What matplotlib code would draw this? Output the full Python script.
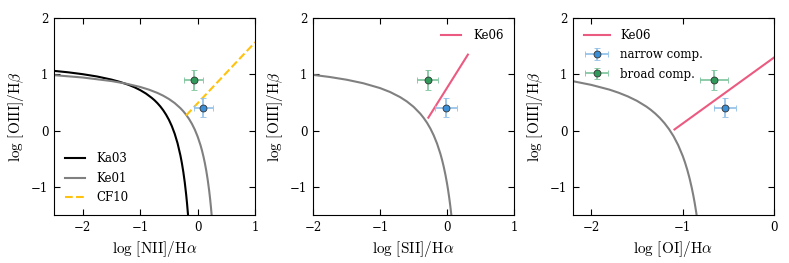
import matplotlib
matplotlib.use("Agg")
import matplotlib.pyplot as plt
from matplotlib.container import ErrorbarContainer
from matplotlib.legend_handler import HandlerErrorbar

plt.rcParams['font.family'] = 'DejaVu Serif'
plt.rcParams['mathtext.fontset'] = 'cm'
plt.rcParams['xtick.direction'] = 'in'
plt.rcParams['ytick.direction'] = 'in'
plt.rcParams['xtick.top'] = True
plt.rcParams['ytick.right'] = True

# demarcation curves, values
ka03_x = [-2.5, -2.25, -2.0, -1.75, -1.5, -1.35, -1.2, -1.1, -1.0, -0.9, -0.8, -0.75, -0.7, -0.65,
          -0.6, -0.55, -0.5, -0.45, -0.4, -0.35, -0.3, -0.275, -0.25, -0.225, -0.2, -0.185, -0.17, -0.16]
ka03_y = [1.061, 1.035, 1.002, 0.961, 0.906, 0.864, 0.812, 0.770, 0.719, 0.658, 0.582, 0.538, 0.487, 0.429,
          0.362, 0.283, 0.191, 0.080, -0.056, -0.225, -0.443, -0.577, -0.733, -0.918, -1.14, -1.296, -1.473, -1.605]

ke01_nii_x = [-2.5, -2.0, -1.5, -1.25, -1.0, -0.85, -0.7, -0.6, -0.5, -0.4, -0.3, -0.25, -0.2, -0.15,
              -0.1, -0.05, 0.0, 0.05, 0.075, 0.1, 0.125, 0.15, 0.175, 0.2, 0.215, 0.23, 0.25]
ke01_nii_y = [0.985, 0.943, 0.880, 0.835, 0.775, 0.728, 0.669, 0.620, 0.561, 0.489, 0.398, 0.343, 0.280, 0.206,
              0.120, 0.017, -0.108, -0.262, -0.354, -0.459, -0.578, -0.716, -0.878, -1.069, -1.202, -1.352, -1.583]

cf10_x = [-0.2, 1.0]
cf10_y = [0.27, 1.57]

ke01_sii_x = [-2.0, -1.75, -1.5, -1.25, -1.0, -0.85, -0.7, -0.6, -0.5, -0.4, -0.35, -0.3, -0.25, -0.2,
              -0.15, -0.1, -0.075, -0.05, -0.025, 0.0, 0.015, 0.03, 0.045, 0.06, 0.07]
ke01_sii_y = [0.990, 0.952, 0.904, 0.841, 0.755, 0.685, 0.594, 0.517, 0.422, 0.300, 0.225, 0.139, 0.037, -0.085,
              -0.232, -0.414, -0.523, -0.646, -0.787, -0.95, -1.061, -1.183, -1.318, -1.469, -1.58]

ke06_sii_x = [-0.28, 0.31]
ke06_sii_y = [0.23, 1.35]

ke01_oi_x = [-2.2, -2.0, -1.8, -1.7, -1.6, -1.5, -1.4, -1.35, -1.3, -1.25, -1.2, -1.15, -1.1, -1.05,
             -1.0, -0.975, -0.95, -0.925, -0.9, -0.885, -0.87, -0.855, -0.84]
ke01_oi_y = [0.877, 0.812, 0.727, 0.672, 0.607, 0.528, 0.429, 0.370, 0.302, 0.224, 0.133, 0.026, -0.101, -0.257,
             -0.450, -0.566, -0.698, -0.849, -1.025, -1.145, -1.277, -1.425, -1.59]

ke06_oi_x = [-1.09, 0.0]
ke06_oi_y = [0.02, 1.30]

# measurements: [NII], [SII], [OI] panels
oiii = {'narrow': 0.41, 'broad': 0.90}
oiii_err = {'narrow': 0.16, 'broad': 0.18}
nii = {'narrow': 0.10, 'broad': -0.07}
nii_err = {'narrow': 0.16, 'broad': 0.16}
sii = {'narrow': -0.02, 'broad': -0.29}
sii_err = {'narrow': 0.16, 'broad': 0.16}
oi = {'narrow': -0.54, 'broad': -0.66}
oi_err = {'narrow': 0.12, 'broad': 0.15}

face = {'narrow': '#3a8fd6', 'broad': '#2f9a5a'}
ecol = {'narrow': '#8fbfe8', 'broad': '#7cc49b'}
labels = {'narrow': 'narrow comp.', 'broad': 'broad comp.'}

fig = plt.figure(figsize=(7.89, 2.63), dpi=100)
lefts = [0.0684, 0.3967, 0.7262]
axes = [fig.add_axes([l, 0.1825, 0.255, 0.749]) for l in lefts]

pink = '#eb5a80'
lab_fs = 11
small = 8.5

ax = axes[0]
ax.plot(ka03_x, ka03_y, color='black', lw=1.5, label='Ka03')
ax.plot(ke01_nii_x, ke01_nii_y, color='gray', lw=1.5, label='Ke01')
ax.plot(cf10_x, cf10_y, color='#ffc20e', lw=1.5, ls='--', label='CF10')
ax.set_xlim(-2.5, 1)
ax.set_xticks([-2, -1, 0, 1])
ax.set_xlabel(r'$\log\,[\mathrm{NII}]/\mathrm{H}\alpha$', fontsize=lab_fs)
ax.legend(loc='lower left', frameon=False, fontsize=small, handlelength=1.7,
          handletextpad=1.0, labelspacing=0.55)

ax = axes[1]
ax.plot(ke01_sii_x, ke01_sii_y, color='gray', lw=1.5)
ax.plot(ke06_sii_x, ke06_sii_y, color=pink, lw=1.5, label='Ke06')
ax.set_xlim(-2, 1)
ax.set_xticks([-2, -1, 0, 1])
ax.set_xlabel(r'$\log\,[\mathrm{SII}]/\mathrm{H}\alpha$', fontsize=lab_fs)
ax.legend(loc='upper right', frameon=False, fontsize=small, handlelength=1.7,
          handletextpad=1.0)

ax = axes[2]
ax.plot(ke01_oi_x, ke01_oi_y, color='gray', lw=1.5)
ax.plot(ke06_oi_x, ke06_oi_y, color=pink, lw=1.5, label='Ke06')
ax.set_xlim(-2.2, 0)
ax.set_xticks([-2, -1, 0])
ax.set_xlabel(r'$\log\,[\mathrm{OI}]/\mathrm{H}\alpha$', fontsize=lab_fs)

xvals = [nii, sii, oi]
xerrs = [nii_err, sii_err, oi_err]
for ax, xv, xe in zip(axes, xvals, xerrs):
    for comp in ['narrow', 'broad']:
        ax.errorbar(xv[comp], oiii[comp], xerr=xe[comp], yerr=oiii_err[comp],
                    fmt='o', ms=5, mfc=face[comp], mec='#333333', mew=0.6,
                    ecolor=ecol[comp], elinewidth=1.2, capsize=2, capthick=1.2,
                    label=labels[comp])
    ax.set_ylim(-1.5, 2)
    ax.set_yticks([-1, 0, 1, 2])
    ax.set_ylabel(r'$\log\,[\mathrm{OIII}]/\mathrm{H}\beta$', fontsize=lab_fs)
    ax.tick_params(labelsize=small, length=4, pad=4)

h, l = axes[2].get_legend_handles_labels()
axes[2].legend(h, l, loc='upper left', frameon=False, fontsize=small, handlelength=2.2,
               handletextpad=0.9, labelspacing=0.55,
               handler_map={ErrorbarContainer: HandlerErrorbar(xerr_size=1.0, yerr_size=0.5)})

fig.savefig('out.png', dpi=100)
